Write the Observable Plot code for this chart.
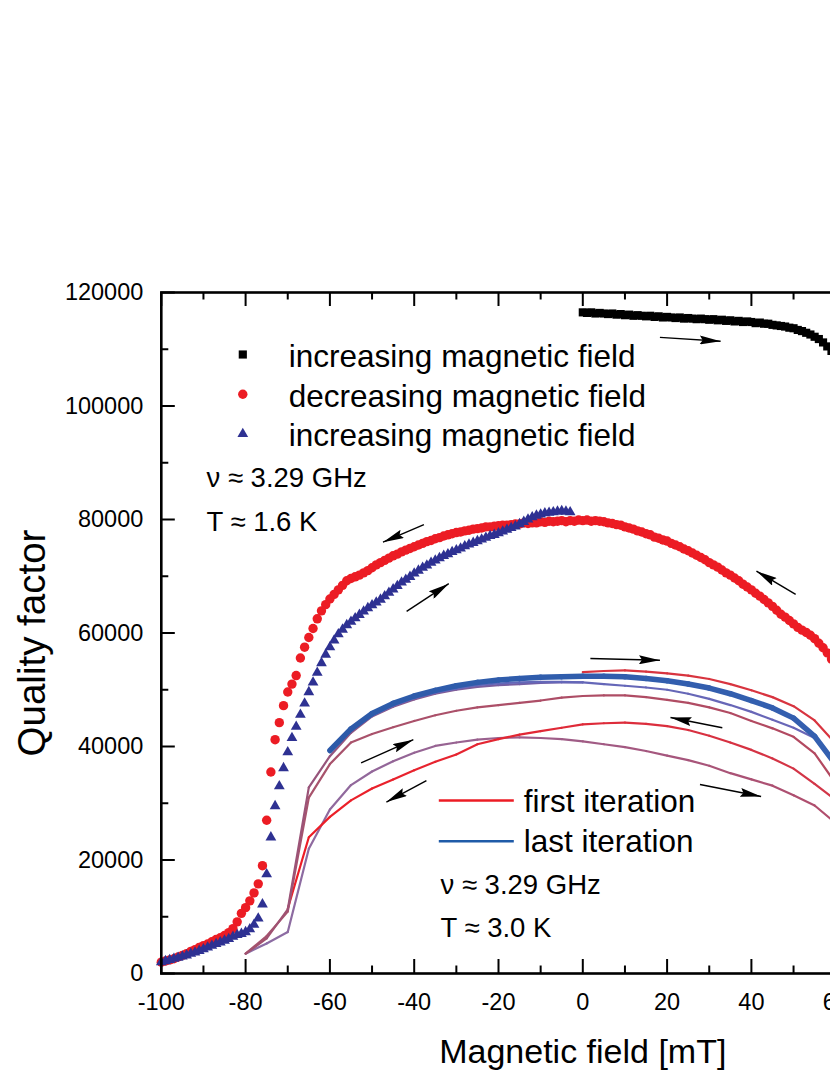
<!DOCTYPE html>
<html><head><meta charset="utf-8">
<script src="https://cdn.jsdelivr.net/npm/d3@7"></script>
<script src="https://cdn.jsdelivr.net/npm/@observablehq/plot@0.6"></script>
<style>
html,body{margin:0;padding:0;overflow:hidden;background:#fff;width:830px;height:1075px}
#chart svg{max-width:none!important;display:block}
</style></head><body><div id="chart"></div>
<script>
// ---------- data (1.6 K, symbols; field sampled every 1 mT) ----------
const sqStart = 0;      // black squares: increasing field
const sqQ = [116500,116400,116500,116300,116400,116300,116200,116300,116100,116200,116000,116100,115900,116000,115900,115800,115900,115700,115800,115600,115700,115600,115500,115600,115400,115500,115400,115300,115400,115300,115200,115300,115100,115200,115000,115100,114900,115000,114800,114900,114800,114600,114700,114500,114500,114300,114200,114100,114000,113800,113700,113400,113200,112900,112600,112200,111800,111200,110500,109700,108800,107900,106800];
const circStart = 62;   // red circles: decreasing field (62 -> -100)
const circQ = [52000,53200,54300,55400,56500,57400,58200,59000,59600,60100,60500,61000,61600,62200,62800,63300,64000,64700,65300,65900,66500,67000,67600,68100,68600,69200,69700,70200,70600,71100,71600,72000,72400,72900,73300,73700,74100,74500,74800,75200,75500,75800,76200,76400,76700,76900,77300,77500,77800,78000,78300,78500,78700,79000,79100,79300,79400,79600,79700,79800,79700,79900,79800,79900,79700,79800,79600,79800,79700,79600,79700,79500,79600,79400,79400,79300,79400,79200,79200,79100,79000,79000,78900,78800,78700,78700,78500,78400,78300,78100,78000,77800,77700,77500,77300,77100,76800,76600,76300,76100,75800,75500,75200,74900,74600,74300,73900,73600,73200,72800,72400,72000,71500,71000,70600,70200,69900,69600,69200,68400,67600,66800,66000,65000,63900,62500,60800,59200,57500,55600,52500,51000,49600,47200,44200,41200,35500,27000,19000,15800,14200,12800,11600,10600,9100,7900,7200,6700,6300,6000,5600,5200,4900,4600,4200,3900,3500,3200,2900,2600,2400,2200,2000];
const triStart = -100;  // blue triangles: increasing field (-100 -> -3)
const triQ = [2000,2200,2400,2600,2800,3000,3200,3500,3700,4000,4300,4600,4900,5200,5500,5800,6100,6500,6800,7000,7300,7800,8600,9700,12200,17500,24000,29500,33000,36200,39000,41500,43500,45600,47600,49600,51300,53000,54700,56200,57500,58700,59800,60600,61400,62000,62600,63200,63800,64400,64900,65400,65900,66500,67100,67700,68300,68900,69400,69900,70500,71000,71500,71900,72400,72800,73200,73600,73900,74300,74600,74900,75300,75600,75900,76200,76500,76800,77100,77300,77600,77900,78200,78500,78800,79200,79600,80000,80400,80700,80900,81100,81200,81300,81400,81500,81400,81300];

// ---------- data (3.0 K, field sweeps, every 5 mT) ----------
const sweepField = [-80,-75,-70,-65,-60,-55,-50,-45,-40,-35,-30,-25,-20,-15,-10,-5,0,5,10,15,20,25,30,35,40,45,50,55,60,65];
const firstUpQ   = [null,null,null,null,null,null,null,null,null,null,null,null,null,null,null,null,53100,53300,53400,53200,52900,52500,51900,51000,49900,48700,47100,44600,40500,34500];
const firstDownQ = [null,null,11400,24000,27600,30500,32600,34200,35800,37300,38600,40400,41300,42100,42700,43300,43900,44100,44200,44000,43600,42900,41900,40700,39400,37900,36100,33400,30600,26000];
const secondUpQ  = [3500,5300,7300,22000,28900,33200,35600,37400,38900,40100,40700,41200,41500,41600,41500,41300,40900,40400,39900,39200,38400,37600,36600,35300,34200,33100,31400,29600,26500,21500];
const midDownQ   = [3500,6600,10900,31000,36900,40700,42200,43400,44500,45500,46300,46900,47300,47700,48100,48600,48900,49000,49000,48700,48200,47700,46900,45900,44500,43200,41700,38800,33500,27000];
const midUpQ     = [3500,6200,11300,32800,38300,42400,45300,47000,48300,49300,50000,50500,50800,51000,51200,51300,51300,null,null,null,null,null,null,null,null,null,null,null,null,null];
const lateQ      = [null,null,null,null,39000,42800,45400,47200,48500,49500,50200,50800,51100,51300,51400,51400,51300,51000,50700,50400,50000,49300,48400,47300,46100,44700,43300,41500,37200,31000];
const lastQ      = [null,null,null,null,39300,43100,45800,47600,48900,49900,50700,51300,51700,52000,52200,52300,52400,52400,52300,52000,51600,51000,50300,49300,48100,46800,45000,41800,36800,30000];

// ---------- arrows (field mT, Q) ----------
const arrowX1 = [18.3,-37.7,-41.8,50.5,1.8,33.1,-52.6,-37.1,27.8];
const arrowY1 = [112100,79100,63800,66800,55500,43300,37100,34000,33300];
const arrowX2 = [32.7,-47.4,-31.8,41.2,18.3,20.8,-40.2,-46.6,42.3];
const arrowY2 = [111400,76000,68700,70900,55200,45100,41200,30200,31200];

// ---------- ticks & labels ----------
const xMajor = [-100,-80,-60,-40,-20,0,20,40,60,80,100];
const xMinor = [-90,-70,-50,-30,-10,10,30,50,70,90];
const yMajor = [0,20000,40000,60000,80000,100000,120000];
const yMinor = [10000,30000,50000,70000,90000,110000];
const legendTop = ["increasing magnetic field","decreasing magnetic field","increasing magnetic field"];
const legendTopSymbols = ["square","circle","triangle"];
const legendTopColors = ["#000000","#ec1c24","#2e3192"];
const legendBottom = ["first iteration","last iteration"];
const legendBottomColors = ["#ec1c24","#1f5ba8"];
const noteTop = ["ν ≈ 3.29 GHz","T ≈ 1.6 K"];
const noteBottom = ["ν ≈ 3.29 GHz","T ≈ 3.0 K"];

// ---------- build ----------
const font = "'Liberation Sans', Arial, Helvetica, sans-serif";
const W = 1050, H = 1075, mL = 160.8, mR = 46.2, mT = 292, mB = 102;
const innerH = H - mT - mB, innerW = W - mL - mR;
const rSq = 4.6, rCirc = 4.7, rTri = 4.0;

const squares = sqQ.map((q,i)=>({x: sqStart + i, y: q}));
const circles = circQ.map((q,i)=>({x: circStart - i, y: q}));
const triangles = triQ.map((q,i)=>({x: triStart + i, y: q}));

function segs(Q, c0, c1){
  const idx = Q.map((q,i)=>q==null?null:i).filter(i=>i!=null);
  const a = idx[0], b = idx[idx.length-1];
  const interp = d3.interpolateRgb(c0, c1);
  const out = [];
  for (let k=0;k<idx.length-1;k++){
    const i = idx[k], j = idx[k+1];
    out.push({x1: sweepField[i], y1: Q[i], x2: sweepField[j], y2: Q[j], c: interp(((i+j)/2 - a)/Math.max(1,b-a))});
  }
  return out;
}
const sweeps = [
  {Q: secondUpQ, c0: "#8a6ea6", c1: "#b24c6a", w: 2.2},
  {Q: firstDownQ, c0: "#ee1c25", c1: "#d0384a", w: 2.2},
  {Q: midDownQ, c0: "#a6546e", c1: "#b4485f", w: 2.2},
  {Q: midUpQ, c0: "#a4506c", c1: "#6a62b0", w: 2.2},
  {Q: firstUpQ, c0: "#d8343f", c1: "#d8343f", w: 2.2},
  {Q: lateQ, c0: "#5f68ba", c1: "#6a66b6", w: 2.2},
  {Q: lastQ, c0: "#2c5aa9", c1: "#3560b0", w: 5.5}
];

const marks = [];
for (const s of sweeps) {
  marks.push(Plot.link(segs(s.Q, s.c0, s.c1), {x1:"x1", y1:"y1", x2:"x2", y2:"y2", stroke: d=>d.c, strokeWidth: s.w, strokeLinecap: "round"}));
}
marks.push(Plot.dot(squares, {x:"x", y:"y", symbol:"square", fill:"#000", r:rSq}));
marks.push(Plot.dot(circles, {x:"x", y:"y", symbol:"circle", fill:"#ec1c24", r:rCirc}));
marks.push(Plot.dot(triangles, {x:"x", y:"y", symbol:"triangle", fill:"#2e3192", r:rTri}));
marks.push(Plot.link(arrowX1.map((_,i)=>i), {x1: i=>arrowX1[i], y1: i=>arrowY1[i], x2: i=>arrowX2[i], y2: i=>arrowY2[i], stroke: "#010101", strokeWidth: 1.4}));

marks.push(Plot.frame({stroke:"#000", strokeWidth: 2.6}));
marks.push(Plot.tickX(xMajor, {x: d=>d, insetTop: innerH-14, stroke:"#000", strokeWidth: 2}));
marks.push(Plot.tickX(xMinor, {x: d=>d, insetTop: innerH-7.5, stroke:"#000", strokeWidth: 2}));
marks.push(Plot.tickX(xMajor, {x: d=>d, insetBottom: innerH-14, stroke:"#000", strokeWidth: 2}));
marks.push(Plot.tickX(xMinor, {x: d=>d, insetBottom: innerH-7.5, stroke:"#000", strokeWidth: 2}));
marks.push(Plot.tickY(yMajor, {y: d=>d, insetRight: innerW-14, stroke:"#000", strokeWidth: 2}));
marks.push(Plot.tickY(yMinor, {y: d=>d, insetRight: innerW-7.5, stroke:"#000", strokeWidth: 2}));
marks.push(Plot.text(xMajor, {x: d=>d, text: d=>String(d), frameAnchor:"bottom", lineAnchor:"bottom", dy: 36, fontSize: 23.5, fill:"#000"}));
marks.push(Plot.text(yMajor, {y: d=>d, text: d=>String(d), frameAnchor:"left", textAnchor:"end", lineAnchor:"middle", dx: -18, fontSize: 23.5, fill:"#000"}));
marks.push(Plot.text(["Magnetic field [mT]"], {text: d=>d, frameAnchor:"bottom", lineAnchor:"bottom", dy: 89, fontSize: 34, fill:"#000"}));
marks.push(Plot.text(["Quality factor"], {text: d=>d, frameAnchor:"left", textAnchor:"middle", lineAnchor:"middle", rotate: -90, dx: -129, dy: 10, fontSize: 38.5, fill:"#000"}));

legendTop.forEach((lab,i)=>{
  marks.push(Plot.dot([lab], {frameAnchor:"top-left", dx: 81.5, dy: 62 + i*39.7, symbol: legendTopSymbols[i], fill: legendTopColors[i], r: [rSq, rCirc, rTri][i]}));
  marks.push(Plot.text([lab], {text: d=>d, frameAnchor:"top-left", textAnchor:"start", lineAnchor:"bottom", dx: 127.5, dy: 74.7 + i*39.4, fontSize: 31.5, fill:"#000"}));
});
noteTop.forEach((lab,i)=>{
  marks.push(Plot.text([lab], {text: d=>d, frameAnchor:"top-left", textAnchor:"start", lineAnchor:"bottom", dx: 45.2, dy: 194.7 + i*43.3, fontSize: 27.5, fill:"#000"}));
});
const lineSym = {draw(ctx){ ctx.moveTo(-37.5,0); ctx.lineTo(37.5,0); }};
legendBottom.forEach((lab,i)=>{
  marks.push(Plot.dot([lab], {frameAnchor:"top-left", dx: 315, dy: 508 + i*40.7, symbol: lineSym, fill:"none", stroke: legendBottomColors[i], strokeWidth: 2.6}));
  marks.push(Plot.text([lab], {text: d=>d, frameAnchor:"top-left", textAnchor:"start", lineAnchor:"bottom", dx: 362.5, dy: 519.7 + i*40, fontSize: 31.5, fill:"#000"}));
});
noteBottom.forEach((lab,i)=>{
  marks.push(Plot.text([lab], {text: d=>d, frameAnchor:"top-left", textAnchor:"start", lineAnchor:"bottom", dx: 279.2, dy: 601.3 + i*42.7, fontSize: 27.5, fill:"#000"}));
});

const chart = Plot.plot({
  width: W, height: H,
  marginLeft: mL, marginRight: mR, marginTop: mT, marginBottom: mB,
  style: {fontFamily: font, background: "#fff", maxWidth: "none", overflow: "visible"},
  x: {domain: [-100, 100], axis: null},
  y: {domain: [0, 120000], axis: null},
  marks
});
document.getElementById("chart").appendChild(chart);

const svg = d3.select(chart);
const defs = svg.insert("defs", ":first-child");
defs.append("marker").attr("id","ahead").attr("viewBox","0 0 21 9").attr("refX",21).attr("refY",4.5)
  .attr("markerWidth",21).attr("markerHeight",9).attr("markerUnits","userSpaceOnUse").attr("orient","auto")
  .append("path").attr("d","M0,0L21,4.5L0,9L3,4.5Z").attr("fill","#000");
svg.selectAll('g[stroke="#010101"] path, path[stroke="#010101"]').attr("marker-end","url(#ahead)");
</script></body></html>
